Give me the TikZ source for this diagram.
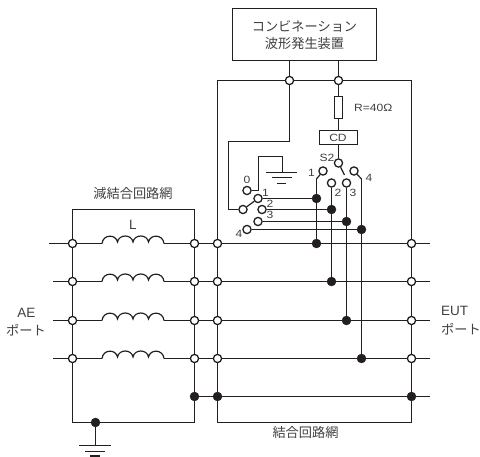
\documentclass[tikz,border=0pt]{standalone}
\usepackage{fontspec}
\setmainfont{Noto Sans CJK JP}
\newfontfamily\lat[FakeStretch=1.15]{Liberation Sans}
\newfontfamily\latb{Liberation Sans}
\usetikzlibrary{backgrounds}
\definecolor{ln}{HTML}{231F20}
\definecolor{tx}{HTML}{404040}
\tikzset{
  wire/.style={draw=ln,line width=1.6pt},
  slant/.style={draw=ln,line width=1.2pt},
  opn/.style={circle,draw=ln,fill=white,line width=1.3pt,inner sep=0pt,minimum size=8.2pt},
  blk/.style={circle,draw=ln,fill=ln,line width=0.4pt,inner sep=0pt,minimum size=9pt},
  boxn/.style={draw=ln,fill=white,line width=1.6pt,inner sep=0pt},
  jlab/.style={text=tx,font=\fontsize{13.2}{15}\selectfont,inner sep=0pt},
  llab/.style={text=tx,font=\lat\fontsize{10.5}{12}\selectfont,inner sep=0pt},
  lbig/.style={text=tx,font=\latb\fontsize{13.5}{15}\selectfont,inner sep=0pt}
}
\begin{document}
\begin{tikzpicture}[x=1pt,y=-1pt]
\useasboundingbox (0,0) rectangle (480,457);
% boxes
\node[boxn,minimum width=144pt,minimum height=52pt] (gen) at (304.5,34.5) {};
\node[jlab] (gt1) at (304.5,26) {コンビネーション};
\node[jlab] (gt2) at (304.5,44) {波形発生装置};
\node[boxn,minimum width=8pt,minimum height=22pt] (res) at (338.5,107.5) {};
\node[boxn,minimum width=38pt,minimum height=14pt] (cd) at (338.5,137.5) {};
\node[llab] (cdt) at (338,137.5) {CD};
% top bus
\node[opn] (t1) at (289.5,80.5) {};
\node[opn] (t2) at (338.5,80.5) {};
\coordinate (tl) at (217.5,80.5);
\coordinate (tr) at (411.5,80.5);
% switch S2
\node[opn] (s2) at (338.5,163) {};
\node[opn] (r1) at (323,171) {};
\node[opn] (r2) at (331.5,183) {};
\node[opn] (r3) at (346.5,183) {};
\node[opn] (r4) at (354,171) {};
\coordinate (s2arm) at (344.5,175);
\coordinate (k1) at (316.5,179);
\coordinate (k4) at (361.5,179);
% switch left
\node[opn] (com) at (243,209.5) {};
\node[opn] (l0) at (247,190.5) {};
\node[opn] (l1) at (258,198.5) {};
\node[opn] (l2) at (262,209.5) {};
\node[opn] (l3) at (258,221.5) {};
\node[opn] (l4) at (247,229.5) {};
% vertical tap dots
\node[blk] (d1) at (316.5,198.5) {};
\node[blk] (d2) at (331.5,209.5) {};
\node[blk] (d3) at (346.5,221.5) {};
\node[blk] (d4) at (361.5,229.5) {};
\node[blk] (e1) at (316.5,243.5) {};
\node[blk] (e2) at (331.5,281.5) {};
\node[blk] (e3) at (346.5,320.5) {};
\node[blk] (e4) at (361.5,358.5) {};
% rows
\foreach \i/\yy/\xs in {1/243.5/49,2/281.5/53,3/320.5/53,4/358.5/53}{
  \node[opn] (a\i) at (72.5,\yy) {};
  \node[opn] (b\i) at (194.5,\yy) {};
  \node[opn] (c\i) at (217.5,\yy) {};
  \node[opn] (o\i) at (411.5,\yy) {};
  \coordinate (w\i) at (\xs,\yy);
  \coordinate (q\i) at (430,\yy);
  \coordinate (cs\i) at (102,\yy);
  \coordinate (ce\i) at (164,\yy);
}
\node[blk] (b5) at (194.5,396.5) {};
\node[blk] (c5) at (217.5,396.5) {};
\node[blk] (o5) at (411.5,396.5) {};
\coordinate (q5) at (430,396.5);
\node[blk] (gd) at (95.5,422.5) {};
% corners
\coordinate (atl) at (72.5,209.5);
\coordinate (atr) at (194.5,209.5);
\coordinate (abl) at (72.5,422.5);
\coordinate (abr) at (194.5,422.5);
\coordinate (cbl) at (217.5,422.5);
\coordinate (cbr) at (411.5,422.5);
\coordinate (g1) at (95.5,445.5);
\coordinate (gl) at (282.5,172.5);
% wires
\begin{scope}[on background layer]
\draw[wire] (tl) -- (tr);
\draw[wire] (gen.south -| t1) -- (t1);
\draw[wire] (gen.south -| t2) -- (t2);
\draw[wire] (t2) -- (res);
\draw[wire] (res) -- (res |- cd.north);
\draw[wire] (cd.south -| s2) -- (s2);
\draw[slant] (s2) -- (s2arm);
\draw[wire] (t1) -- (289.5,141.5) -- (228.5,141.5) -- (228.5,209.5) -- (com);
\draw[slant] (com) -- (l1);
\draw[wire] (l1) -- (d1);
\draw[wire] (l2) -- (d2);
\draw[wire] (l3) -- (d3);
\draw[wire] (l4) -- (d4);
\draw[wire] (l0) -- (258.5,190.5) -- (258.5,156.5) -- (282.5,156.5) -- (gl);
\draw[wire] (266,172.5) -- (297,172.5);
\draw[wire] (272,177.5) -- (292,177.5);
\draw[wire,line width=1.8pt] (277,183.5) -- (286,183.5);
\draw[slant] (r1) -- (k1);
\draw[wire] (k1) -- (e1);
\draw[wire] (r2) -- (e2);
\draw[wire] (r3) -- (e3);
\draw[slant] (r4) -- (k4);
\draw[wire] (k4) -- (e4);
\draw[wire] (tl) -- (cbl) -- (cbr) -- (tr);
\draw[wire] (atl) -- (atr) -- (abr) -- (abl) -- cycle;
\foreach \i in {1,2,3,4}{
  \draw[wire] (w\i) -- (cs\i);
  \draw[wire] (ce\i) -- (q\i);
  \draw[slant] (cs\i)
    .. controls +(1,-9.5) and +(-1.5,-8) .. ++(15.5,-1.5)
    .. controls +(1.5,-8) and +(-1.5,-8) .. ++(15.5,0)
    .. controls +(1.5,-8) and +(-1.5,-8) .. ++(15.5,0)
    .. controls +(1.5,-8) and +(-1,-9.5) .. ++(15.5,1.5);
}
\draw[wire] (b5) -- (q5);
\draw[wire] (gd) -- (g1);
\draw[wire] (79,445.5) -- (111,445.5);
\draw[wire] (85,451.5) -- (105,451.5);
\draw[wire] (90,456.2) -- (100,456.2);
\end{scope}
% labels
\node[jlab] (t3) at (133,193.5) {減結合回路網};
\node[jlab] (t4) at (305.5,432.5) {結合回路網};
\node[lbig] (t5) at (133,224.5) {L};
\node[lbig] (t6) at (26.5,312.5) {AE};
\node[jlab] (t7) at (26,330) {ポート};
\node[lbig,anchor=west] (t8) at (441,311) {EUT};
\node[jlab,anchor=west] (t9) at (441,329) {ポート};
\node[llab,anchor=west] (t10) at (354,108) {R=40Ω};
\node[llab] (t11) at (327,158) {S2};
\node[llab] (n0) at (247,180) {0};
\node[llab] (n1) at (265.5,192.5) {1};
\node[llab] (n2) at (270,203.5) {2};
\node[llab] (n3) at (270,215) {3};
\node[llab] (n4) at (239,234) {4};
\node[llab] (m1) at (311.5,172.5) {1};
\node[llab] (m2) at (338,192.5) {2};
\node[llab] (m3) at (353,192.5) {3};
\node[llab] (m4) at (369,178) {4};
\end{tikzpicture}
\end{document}
